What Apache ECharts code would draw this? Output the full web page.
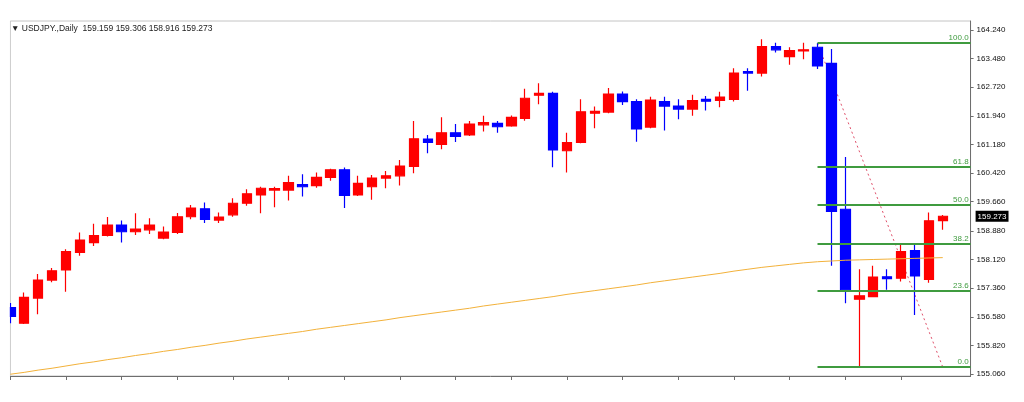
<!DOCTYPE html>
<html>
<head>
<meta charset="utf-8">
<script src="https://cdn.jsdelivr.net/npm/echarts@6/dist/echarts.min.js"></script>
<style>
  html, body { margin: 0; padding: 0; background: #ffffff; }
  #chart { width: 1024px; height: 402px; }
</style>
</head>
<body>
<div id="chart"></div>
<script>
// ---- data ----
const symbolName = 'USDJPY.,Daily';
const categories = ['1','2','3','4','5','6','7','8','9','10','11','12','13','14','15','16','17','18','19','20',
  '21','22','23','24','25','26','27','28','29','30','31','32','33','34','35','36','37','38','39','40',
  '41','42','43','44','45','46','47','48','49','50','51','52','53','54','55','56','57','58','59','60',
  '61','62','63','64','65','66','67','68','69','70'];

const opens = [156.84,156.42,157.09,157.57,157.84,158.31,158.57,158.76,159.04,158.86,
  158.91,158.69,158.84,159.26,159.47,159.17,159.31,159.62,159.84,159.97,
  159.97,160.12,160.09,160.31,160.51,159.84,160.06,160.29,160.35,160.60,
  161.33,161.19,161.50,161.44,161.71,161.75,161.68,161.88,162.50,162.55,
  161.02,161.24,162.02,162.05,162.53,162.33,161.65,162.33,162.21,162.13,
  162.39,162.36,162.39,163.13,163.09,163.80,163.53,163.68,163.78,163.35,
  159.46,157.06,157.13,157.66,157.62,158.36,157.59,159.159];
const highs = [156.96,157.24,157.73,157.89,158.39,158.84,159.07,159.25,159.16,159.35,
  159.22,159.00,159.36,159.57,159.64,159.37,159.75,159.99,160.06,160.06,
  160.35,160.39,160.44,160.54,160.57,160.35,160.37,160.48,160.77,161.81,
  161.44,161.91,161.73,161.81,161.95,161.81,161.96,162.67,162.82,162.59,
  161.50,162.39,162.20,162.69,162.60,162.39,162.46,162.46,162.39,162.51,
  162.48,162.59,163.22,163.22,163.99,163.90,163.78,163.90,163.89,163.73,
  160.85,157.86,157.95,157.86,158.55,158.55,159.37,159.306];
const lows = [156.42,156.40,156.66,157.51,157.26,158.22,158.48,158.73,158.57,158.77,
  158.80,158.66,158.80,159.19,159.09,159.09,159.26,159.55,159.35,159.51,
  159.69,159.80,160.03,160.22,159.49,159.81,159.71,160.02,160.09,160.42,
  160.95,161.06,161.25,161.41,161.53,161.50,161.66,161.82,162.26,160.58,
  160.44,161.22,161.62,162.02,162.24,161.26,161.62,161.56,161.86,161.95,
  162.09,162.18,162.33,162.62,163.00,163.64,163.31,163.46,163.20,157.95,
  156.95,155.25,157.11,157.31,157.53,156.64,157.50,158.916];
const closes = [156.60,157.11,157.57,157.82,158.33,158.64,158.76,159.04,158.86,158.93,
  159.04,158.85,159.26,159.49,159.19,159.25,159.62,159.87,160.02,160.01,
  160.17,160.06,160.31,160.51,159.83,160.15,160.29,160.35,160.61,161.34,
  161.24,161.50,161.40,161.73,161.77,161.66,161.91,162.42,162.55,161.04,
  161.24,162.06,162.07,162.53,162.33,161.60,162.37,162.21,162.13,162.36,
  162.34,162.45,163.09,163.09,163.80,163.71,163.69,163.71,163.28,159.40,
  157.31,157.15,157.65,157.61,158.33,157.68,159.15,159.273];

const movingAverage = [155.06,155.11,155.17,155.22,155.28,155.34,155.39,155.45,155.50,155.56,
  155.61,155.67,155.72,155.78,155.83,155.89,155.94,156.00,156.05,156.10,
  156.15,156.20,156.26,156.31,156.36,156.41,156.46,156.51,156.57,156.62,
  156.67,156.72,156.77,156.82,156.88,156.93,156.98,157.03,157.08,157.13,
  157.19,157.24,157.29,157.34,157.39,157.44,157.50,157.55,157.60,157.65,
  157.70,157.75,157.81,157.86,157.91,157.95,157.99,158.03,158.06,158.08,
  158.10,158.11,158.12,158.13,158.14,158.15,158.16,158.17];

const priceTicks = [155.06,155.82,156.58,157.36,158.12,158.88,159.66,160.42,161.18,161.94,162.72,163.48,164.24];

const fibHigh = 163.89;
const fibLow = 155.25;
const fibStartIndex = 58;
const fibEndIndex = 67;
const fibLevels = [100.0, 61.8, 50.0, 38.2, 23.6, 0.0];

// ---- build ----
const candleData = opens.map((o, i) => [o, closes[i], lows[i], highs[i]]);
const last = opens.length - 1;

const fibGreen = '#3f9b3f';
const fibMarks = fibLevels.map(l => {
  const v = fibLow + (fibHigh - fibLow) * l / 100;
  return [
    { coord: [categories[fibStartIndex], v],
      label: { show: true, position: 'insideEndTop', formatter: l.toFixed(1),
               color: fibGreen, fontSize: 8, fontFamily: 'Liberation Sans', distance: 1, padding: [0, 1, 0, 0] } },
    { coord: [categories[categories.length - 1], v] }
  ];
});
const priceMark = {
  yAxis: closes[last],
  lineStyle: { color: 'rgba(0,0,0,0)', width: 0 },
  label: { show: true, position: 'end', formatter: closes[last].toFixed(3),
           backgroundColor: '#000', color: '#fff', fontSize: 8, fontFamily: 'Liberation Sans',
           padding: [2, 2, 1, 2], distance: 5 }
};

const anchorLine = categories.map((c, i) => i === fibStartIndex ? fibHigh : (i === fibEndIndex ? fibLow : null));

const titleText = '\u25BC ' + symbolName + '  ' + opens[last].toFixed(3) + ' ' + highs[last].toFixed(3) + ' ' +
  lows[last].toFixed(3) + ' ' + closes[last].toFixed(3);

const chart = echarts.init(document.getElementById('chart'), null, { renderer: 'canvas' });
chart.setOption({
  animation: false,
  backgroundColor: '#ffffff',
  title: {
    text: titleText, left: 11, top: 24, padding: 0,
    textStyle: { fontSize: 8.5, fontWeight: 'normal', color: '#222', fontFamily: 'Liberation Sans' }
  },
  grid: { left: 10.3, right: 53.4, top: 21, bottom: 26, show: true, borderColor: '#c4c4c4', borderWidth: 1 },
  // white mask left of the plot frame, so the first candle is cut at the border as in the reference
  graphic: [{
    type: 'rect', left: 0, top: 0, z: 100, silent: true,
    shape: { width: 9.8, height: 380 }, style: { fill: '#ffffff' }
  }],
  xAxis: {
    type: 'category', data: categories, boundaryGap: false,
    axisLine: { show: true, lineStyle: { color: '#6e6e6e', width: 1 } },
    axisTick: { show: true, length: 4, lineStyle: { color: '#6e6e6e' },
                interval: (idx) => idx % 4 === 0 && idx <= 64 },
    axisLabel: { show: false },
    splitLine: { show: false }
  },
  yAxis: {
    type: 'value', position: 'right', min: 155.013, max: 164.48, scale: true,
    axisLine: { show: true, lineStyle: { color: '#6e6e6e', width: 1 } },
    axisTick: { show: true, length: 3, customValues: priceTicks, lineStyle: { color: '#6e6e6e' } },
    axisLabel: { show: true, customValues: priceTicks, formatter: v => v.toFixed(3),
                 fontSize: 8, color: '#111', fontFamily: 'Liberation Sans', margin: 6 },
    splitLine: { show: false }
  },
  series: [
    {
      type: 'line', data: anchorLine, connectNulls: true, symbol: 'none', z: 1,
      lineStyle: { color: '#e0506a', width: 1, type: [2, 3] }, silent: true
    },
    {
      type: 'candlestick', data: candleData, barWidth: 10, z: 2, clip: true,
      itemStyle: { color: '#ff0000', color0: '#0000ff', borderColor: '#ff0000', borderColor0: '#0000ff', borderWidth: 1.2 },
      markLine: {
        silent: true, symbol: ['none', 'none'], animation: false,
        lineStyle: { color: fibGreen, width: 2, type: 'solid' },
        data: fibMarks.concat([priceMark])
      }
    },
    {
      type: 'line', data: movingAverage, symbol: 'none', z: 3, silent: true,
      lineStyle: { color: '#f2b13a', width: 1 }
    }
  ]
});
</script>
</body>
</html>
